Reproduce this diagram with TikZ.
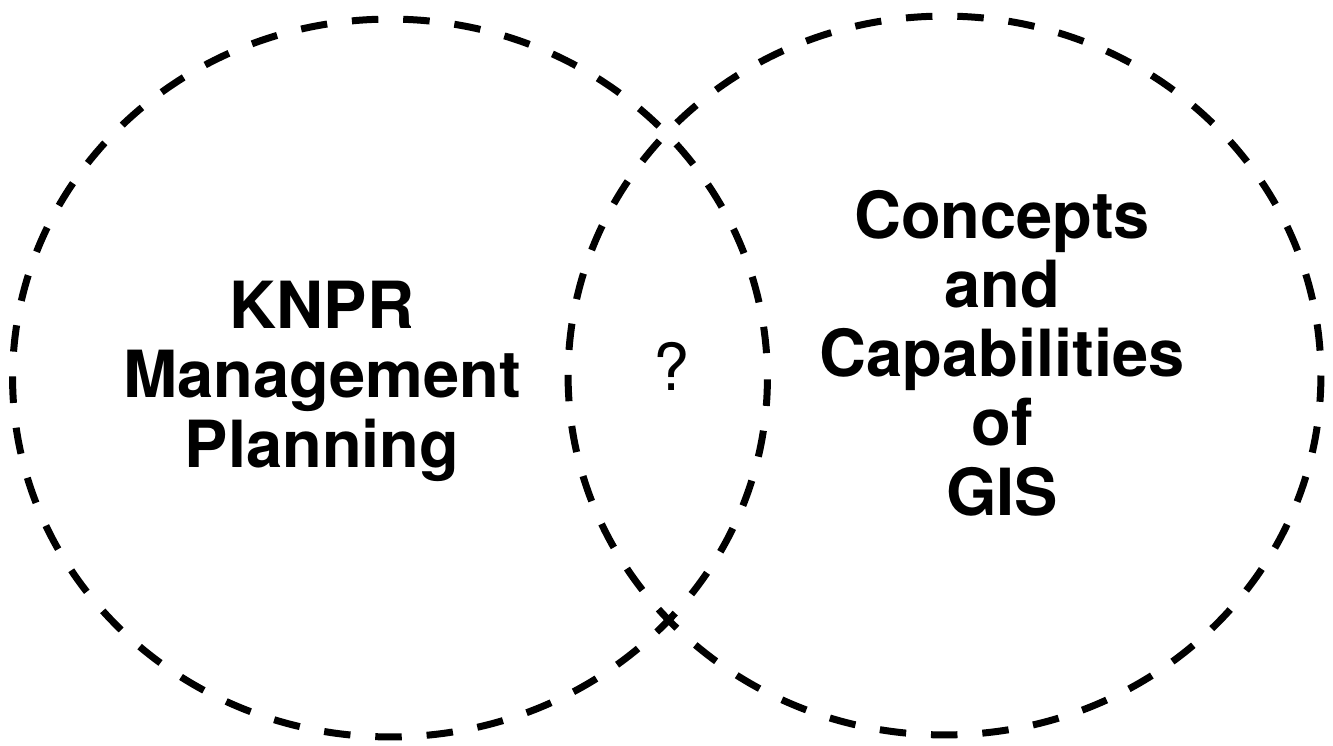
\documentclass[tikz,border=0pt]{standalone}
\usepackage{fontspec}
\setmainfont{TeX Gyre Heros}
\usetikzlibrary{shapes.geometric}

\begin{document}
\begin{tikzpicture}[
  x=0.02cm, y=-0.02cm,
  setring/.style={draw,ellipse,inner sep=0pt,outer sep=0pt,line width=0.14cm,
    dash pattern=on 0.53cm off 0.498cm,dash phase=0.53cm},
  settext/.style={align=center,inner sep=0pt,
    font=\fontsize{37}{39.3}\selectfont\bfseries}
]
\useasboundingbox (0,0) rectangle (1333,745);

\node[setring,minimum width=15.1cm,minimum height=14.36cm] (knpr) at (390,378) {};
\node[setring,minimum width=15.06cm,minimum height=14.38cm] (gis) at (944.5,375.5) {};

% base = baseline of the last line
\node[settext,anchor=base] (knprtext) at (322,467) {KNPR\\Management\\Planning};
\node[settext,anchor=base] (gistext) at (1002,515) {Concepts\\and\\Capabilities\\of\\GIS};
\node[inner sep=0pt,anchor=base,font=\fontsize{37}{39.3}\selectfont] (overlap) at (672,390) {?};

\end{tikzpicture}
\end{document}
